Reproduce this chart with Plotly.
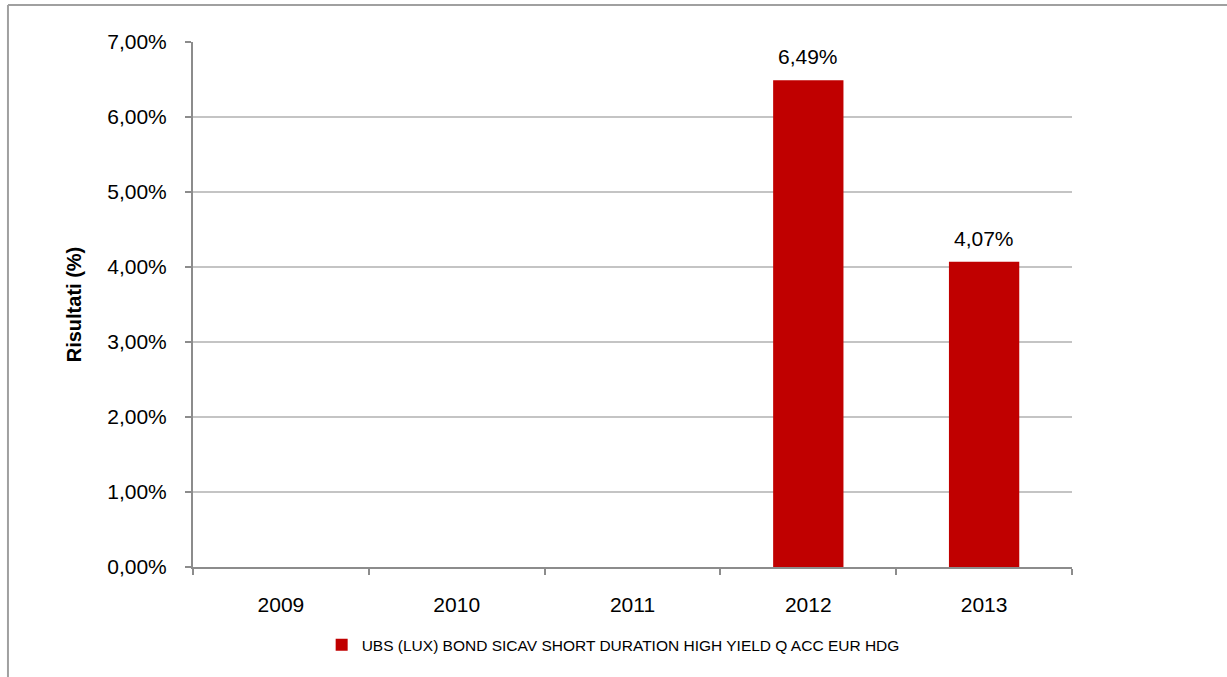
import plotly.graph_objects as go

# data
years = ["2009", "2010", "2011", "2012", "2013"]
results = [None, None, None, 0.0649, 0.0407]
series_name = "UBS (LUX) BOND SICAV SHORT DURATION HIGH YIELD Q ACC EUR HDG"

BAR_RED = "#C00000"
FONT = "Liberation Sans, Arial, sans-serif"

fig = go.Figure()
fig.add_trace(go.Bar(
    x=years,
    y=results,
    name=series_name,
    marker=dict(color=BAR_RED, line=dict(width=0)),
    width=0.4,
    showlegend=True,
))

# value labels above the bars (x given as category index)
for i, val in enumerate(results):
    if val is None:
        continue
    fig.add_annotation(
        x=i, y=val, text=f"{val*100:.2f}%".replace(".", ","),
        showarrow=False, yanchor="bottom", yshift=10,
        font=dict(size=21, color="#000000", family=FONT),
    )

# outer chart frame (only top and left edges are visible in the crop)
fig.add_shape(type="line", xref="paper", yref="paper",
              x0=-0.2105, x1=-0.2105, y0=1.0705, y1=-0.25,
              line=dict(color="#a0a0a0", width=2))
fig.add_shape(type="line", xref="paper", yref="paper",
              x0=-0.2105, x1=1.2, y0=1.0705, y1=1.0705,
              line=dict(color="#a0a0a0", width=2))

fig.update_layout(
    width=1227, height=677,
    margin=dict(l=193, r=155, t=42, b=110),
    paper_bgcolor="white", plot_bgcolor="white",
    separators=",.",
    font=dict(family=FONT, color="#000000"),
    bargap=0.6,
    legend=dict(
        orientation="h", x=0.478, xanchor="center",
        y=-0.149, yanchor="middle",
        font=dict(size=15.5, family=FONT),
        itemwidth=30,
    ),
    xaxis=dict(
        type="category",
        categoryorder="array", categoryarray=years,
        range=[-0.5, len(years) - 0.5],
        showgrid=False,
        showline=True, linecolor="#8c8c8c", linewidth=2,
        ticks="outside", tickson="boundaries", ticklen=6,
        tickcolor="#8c8c8c", tickwidth=2,
        tickfont=dict(size=21),
        tickangle=0,
        ticklabelstandoff=18,
    ),
    yaxis=dict(
        range=[0, 0.07],
        tickvals=[0, 0.01, 0.02, 0.03, 0.04, 0.05, 0.06, 0.07],
        tickformat=".2%",
        showgrid=True, gridcolor="#c4c4c4", gridwidth=2,
        showline=True, linecolor="#8c8c8c", linewidth=2,
        ticks="outside", ticklen=6, tickcolor="#8c8c8c", tickwidth=2,
        tickfont=dict(size=21),
        ticklabelstandoff=14,
        zeroline=False,
        title=dict(text="<b>Risultati (%)</b>", font=dict(size=20), standoff=20),
    ),
)

fig.write_html("out.html", config={"displayModeBar": False},
               post_script="document.body.style.margin='0';")
